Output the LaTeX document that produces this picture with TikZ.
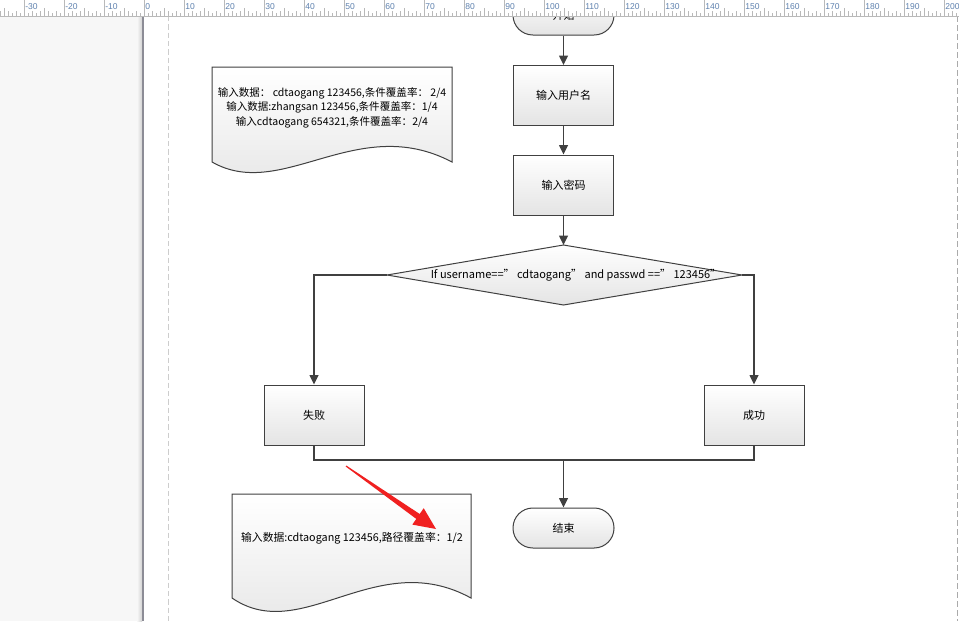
\documentclass[tikz,border=0pt]{standalone}
\usepackage{fontspec}
\newfontfamily\cjk{Noto Sans CJK SC}
\newfontfamily\rulerfont{Liberation Sans}
\usetikzlibrary{arrows.meta,calc}
\definecolor{linec}{RGB}{64,64,64}
\definecolor{boxbot}{RGB}{228,228,228}
\definecolor{tickc}{RGB}{185,185,185}
\definecolor{rulerlab}{RGB}{95,130,175}
\definecolor{panel}{RGB}{247,247,247}
\definecolor{pageedge}{RGB}{140,140,150}
\definecolor{marginc}{RGB}{205,205,205}
\definecolor{marginr}{RGB}{170,170,170}
\definecolor{redarrow}{RGB}{240,32,32}
\begin{document}
\begin{tikzpicture}[x=0.75pt,y=-0.75pt,
  txt/.style={font=\cjk\fontsize{8.25}{11}\selectfont, text=black},
  proc/.style={txt, rectangle, draw=linec, line width=0.75pt, top color=white, bottom color=boxbot, minimum width=75pt, minimum height=45pt, inner sep=0pt},
  term/.style={txt, rectangle, rounded corners=14.9pt, draw=linec, line width=0.75pt, top color=white, bottom color=boxbot, minimum width=75.75pt, minimum height=30pt, inner sep=0pt},
  conn/.style={draw=linec, line width=1.1pt},
  arr/.style={conn, -{Triangle[length=7pt,width=6.5pt]}},
  docshape/.style={draw=linec, line width=0.75pt, top color=white, bottom color=boxbot},
  rlab/.style={anchor=north west, inner sep=0pt, text=rulerlab, font=\rulerfont\fontsize{6.4}{7}\selectfont},
]
\useasboundingbox (0,0) rectangle (959,621);
% background
\fill[white] (0,0) rectangle (959,621);
\fill[panel] (0,16) rectangle (142,621);
\shade[left color=panel, right color=gray!35] (137,16) rectangle (142,621);
\draw[pageedge, line width=1.4pt] (143,16) -- (143,621);
\draw[marginc, dash pattern=on 4pt off 2.25pt, line width=0.6pt] (168,16) -- (168,621);
\draw[marginr, dash pattern=on 4.5pt off 2.25pt, line width=0.9pt] (957.5,16) -- (957.5,621);

% documents
\path[docshape] (212,67) -- (452,67) -- (452,162) .. controls (357,112) and (282,202) .. (212,162) -- cycle;
\node[txt, align=center, font=\cjk\fontsize{7.9}{10.9}\selectfont] (d1text) at (332,107.5)
  {输入数据： cdtaogang 123456,条件覆盖率： 2/4\\输入数据:zhangsan 123456,条件覆盖率：1/4\\输入cdtaogang 654321,条件覆盖率：2/4};
\path[docshape] (232,494) -- (471,494) -- (471,598) .. controls (376,546) and (302,646) .. (232,598) -- cycle;
\node[txt, font=\cjk\fontsize{8.1}{11}\selectfont] (d2text) at (352,538) {输入数据:cdtaogang 123456,路径覆盖率：1/2};

% flowchart
\node[term] (start) at (563.5,15) {开始};
\node[proc] (b1) at (563.5,95.5) {输入用户名};
\node[proc] (b2) at (563.5,185) {输入密码};
\coordinate (dT) at (563.5,245);
\coordinate (dB) at (563.5,305);
\coordinate (dL) at (387,275);
\coordinate (dR) at (742,275);
\path[draw=linec, line width=0.75pt, top color=white, bottom color=boxbot] (dT) -- (dR) -- (dB) -- (dL) -- cycle;
\node[txt] (dtext) at (576,275) {If username==” cdtaogang” and passwd ==” 123456”};
\node[proc] (fail) at (314,415) {失败};
\node[proc] (succ) at (754,415) {成功};
\node[term] (end) at (563.5,528) {结束};
\coordinate (jc) at (563.5,460);

\draw[arr] (start.south) -- (b1.north);
\draw[arr] (b1.south) -- (b2.north);
\draw[arr] (b2.south) -- (dT);
\draw[arr] (dL) -| (fail.north);
\draw[arr] (dR) -| (succ.north);
\draw[conn] (fail.south) |- (jc) -| (succ.south);
\draw[arr] (jc) -- (end.north);

% red annotation arrow
\fill[redarrow] (345.7,466.5) -- (416.3,518.9) -- (412.3,524.6) -- (436,529) -- (423.7,508.2) -- (419.7,514.0) -- (346.3,465.5) -- cycle;

% ruler
\fill[white] (0,0) rectangle (959,16);
\draw[tickc, line width=0.6pt] (0,16.3) -- (959,16.3);
\foreach \k in {-36,...,203}{
  \pgfmathtruncatemacro\mten{mod(abs(\k),10)}
  \pgfmathtruncatemacro\mtwo{mod(abs(\k),2)}
  \ifnum\mten=0 \def\hh{16}\else\ifnum\mten=5 \def\hh{8}\else\ifnum\mtwo=0 \def\hh{5.5}\else\def\hh{3.5}\fi\fi\fi
  \draw[tickc, line width=0.6pt] (144+4*\k,16) -- ++(0,-\hh);
}
\foreach \v in {-30,-20,...,200}{
  \pgfmathtruncatemacro\idx{\v+40}
  \node[rlab] (rl\idx) at (145+4*\v,2.8) {\v};
}
\end{tikzpicture}
\end{document}
